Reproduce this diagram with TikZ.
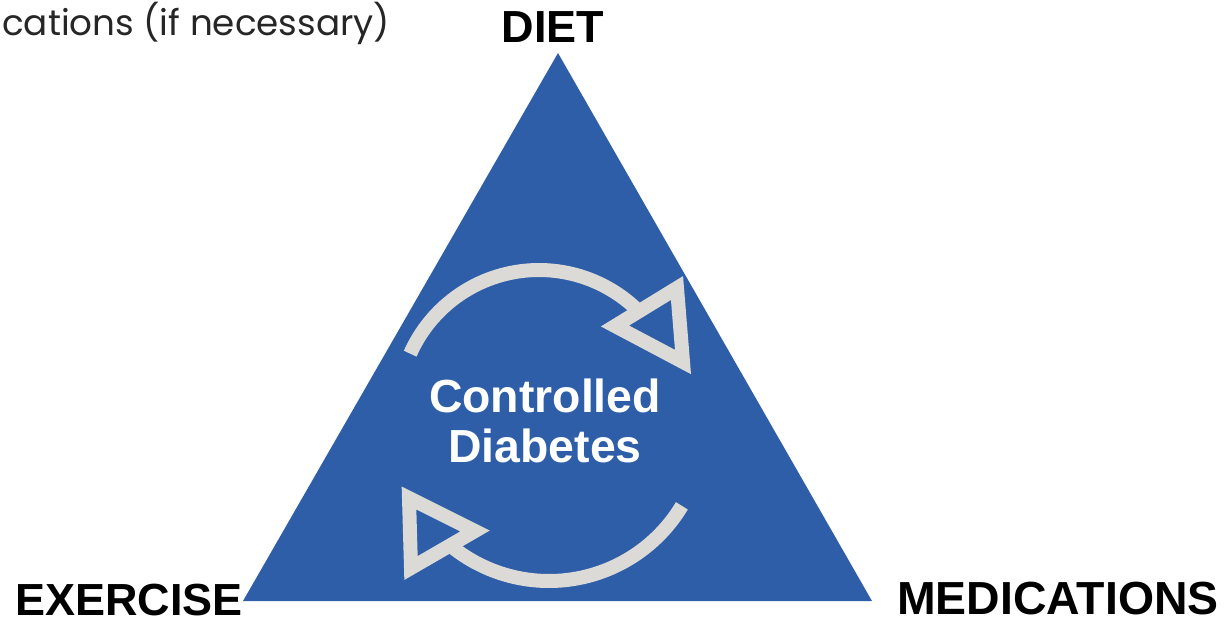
\documentclass[tikz,border=0pt]{standalone}
\usepackage{fontspec}
\setmainfont{Liberation Sans}
\newfontfamily\notefont{Poppins}
\usetikzlibrary{positioning}
\definecolor{triblue}{RGB}{46,94,168}
\definecolor{cyclegray}{RGB}{219,218,215}
\tikzset{
  corner/.style={font=\fontsize{32}{36}\selectfont\bfseries, text=black, inner sep=0pt},
  centre/.style={font=\fontsize{33}{35}\selectfont\bfseries, text=white, align=center, inner sep=0pt},
  note/.style={font=\notefont\fontsize{25.4}{30}\selectfont, text=black!85, inner sep=0pt},
  cyclearc/.style={draw=cyclegray, line width=3.5mm, line cap=butt},
  cyclehead/.style={draw=cyclegray, line width=3.5mm, line join=miter}
}

\begin{document}
\begin{tikzpicture}[x=0.25mm, y=-0.25mm]
  \useasboundingbox (0,0) rectangle (1228,622);
  % the triangle
  \coordinate (top) at (558,53);
  \coordinate (left) at (243,601);
  \coordinate (right) at (872,601);
  \fill[triblue] (top) -- (right) -- (left) -- cycle;
  \node[corner, anchor=base] (diet) at (553,42) {DIET};
  \node[corner, anchor=base west] (exercise) at (15,615) {EXERCISE};
  \node[corner, font=\fontsize{33}{36}\selectfont\bfseries, anchor=base west] (meds) at (897,614) {MEDICATIONS};
  \node[centre] (goal) at (545,421) {Controlled\\Diabetes};
  \node[note, anchor=base west] (cut) at (2,35) {cations (if necessary)};
  % cycle arrows
  \coordinate (upc) at (539,411);
  \coordinate (lowc) at (549,426);
  \draw[cyclearc] (upc) ++(204:141) arc[start angle=204, end angle=315, radius=141];
  \draw[cyclehead] (615,326) -- (677,288) -- (683,362) -- cycle;
  \draw[cyclearc] (lowc) ++(31:155) arc[start angle=31, end angle=128, radius=155];
  \draw[cyclehead] (409,498) -- (475,531) -- (411,568) -- cycle;
\end{tikzpicture}
\end{document}
